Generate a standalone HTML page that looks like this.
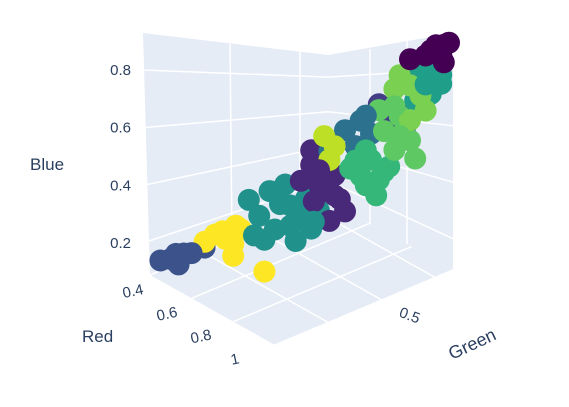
<!DOCTYPE html>
<html><head><meta charset="utf-8"><style>
body{margin:0;background:#fff;}
svg text{font-family:"Liberation Sans",sans-serif;fill:#2a3f5f;}
</style></head><body>
<svg id="chart" width="569" height="402" viewBox="0 0 569 402">
<g id="panes">
<polygon points="143,33 328,55 328,200 150,275" fill="#e5ecf6"/>
<polygon points="328,55 453,33 453,270 328,200" fill="#e5ecf6"/>
<polygon points="150,275 275,345 453,270 328,200" fill="#e5ecf6"/>
</g>
<g id="grid" stroke="#fff" stroke-width="1.5" fill="none"></g>
<g id="points"></g>
<g id="labels"></g>
</svg>
<script>
const clusterColors=["#3b528b","#fde725","#21918c","#482878","#433e85","#2c728e","#bddf26","#35b779","#5ec962","#1f9e89","#7ad151","#440154"];
const red=[0.4,0.4,0.4,0.4,0.4, 0.4,0.4,0.4,0.4,0.4,0.4,0.4,0.4, 0.4,0.4,0.4,0.4,0.4,0.4,0.4,0.4,0.4,0.4,0.4,0.4, 0.4,0.4,0.4,0.4,0.4,0.4,0.4,0.4,0.4, 0.4,0.4,0.4,0.4, 0.4,0.4,0.4,0.4,0.4, 0.4,0.4,0.4, 0.4,0.4,0.4,0.4,0.4,0.4,0.4, 0.4,0.4,0.4,0.4,0.4,0.4, 0.4,0.4,0.4,0.4,0.4,0.4,0.4, 0.4,0.4,0.4,0.4,0.4,0.4, 0.4,0.4,0.4,0.4,0.4,0.4,
 0.4,0.4,0.4,0.4,0.4,0.4,0.4,0.4,0.4,0.4,0.4,0.4,0.4,0.4,0.4,0.4,0.4,0.4,0.4];
const green=[0.24,0.28,0.31,0.33,0.41, 0.41,0.48,0.53,0.55,0.52,0.52,0.64,0.49, 0.66,0.70,0.62,0.68,0.74,0.78,0.82,0.85,0.64,0.76,0.72,0.80, 0.78,0.82,0.87,0.91,0.93,0.95,0.83,0.89,0.82, 1.08,1.14,1.18,1.20, 0.95,1.01,1.05,0.99,0.89, 0.87,0.91,0.89, 0.97,1.05,1.08,1.03,1.12,1.07,0.99, 1.10,1.16,1.20,1.14,1.22,1.08, 1.18,1.28,1.32,1.28,1.22,1.32,1.24, 1.16,1.20,1.24,1.26,1.14,1.20, 1.30,1.35,1.32,1.26,1.20,1.33,
 0.60,0.74,0.83,0.58,0.85,0.91,0.85,1.01,1.10,1.03,1.16,1.14,1.26,1.03,1.33,1.28,0.45,0.30,0.36];
const blue=[0.19,0.18,0.15,0.18,0.17, 0.19,0.20,0.20,0.18,0.10,0.14,0.00,0.17, 0.27,0.21,0.20,0.13,0.12,0.14,0.08,0.13,0.11,0.06,0.27,0.19, 0.26,0.30,0.19,0.23,0.14,0.09,0.17,0.08,0.35, 0.41,0.33,0.29,0.33, 0.37,0.38,0.32,0.30,0.32, 0.38,0.33,0.29, 0.23,0.23,0.15,0.15,0.18,0.10,0.25, 0.31,0.34,0.24,0.23,0.17,0.39, 0.46,0.45,0.39,0.37,0.37,0.42,0.47, 0.48,0.43,0.38,0.32,0.44,0.31, 0.53,0.52,0.49,0.51,0.52,0.46,
 0.14,0.19,0.10,0.27,0.22,0.16,0.27,0.19,0.17,0.27,0.27,0.38,0.41,0.39,0.52,0.52,0.20,0.19,0.17];
const cluster=[0,0,0,0,0, 1,1,1,1,1,1,1,1, 2,2,2,2,2,2,2,2,2,2,2,2, 3,3,3,3,3,3,3,3,3, 4,4,4,4, 5,5,5,5,5, 6,6,6, 7,7,7,7,7,7,7, 8,8,8,8,8,8, 9,9,9,9,9,9,9, 10,10,10,10,10,10, 11,11,11,11,11,11,
 2,2,2,2,3,3,3,7,7,7,8,8,9,5,11,11,1,0,0];
const blueTicks=["0.2","0.4","0.6","0.8"];
const blueTickVals=[0.2,0.4,0.6,0.8];
const redTicks=["0.4","0.6","0.8","1"];
const redTickVals=[0.4,0.6,0.8,1.0];
const greenTicks=["0.5"];
const greenTickVals=[0.5];

const NS="http://www.w3.org/2000/svg";
function mk(tag,attrs,parent){const e=document.createElementNS(NS,tag);for(const k in attrs)e.setAttribute(k,attrs[k]);parent.appendChild(e);return e;}
function proj(r,g,b){return [150+(g-0.2)*260+(r-0.4)*150, 262-(g-0.2)*110-(b-0.2)*290+(r-0.4)*110];}
function blueY(v){return 243-(v-0.2)/0.6*173;}
function redT(v){return (v-0.4)/0.6;}
function greenT(v){return (v-0.2)/0.5;}
function lerp(a,b,t){return [a[0]+(b[0]-a[0])*t,a[1]+(b[1]-a[1])*t];}
const L=[150,275],F=[275,345],R=[453,270],B=[328,200];
const grid=document.getElementById('grid');
redTickVals.forEach(v=>{const t=redT(v);const p1=lerp(L,F,t),p2=lerp(B,R,t);
 const l=mk('line',{x1:p1[0],y1:p1[1],x2:p2[0],y2:p2[1]},grid);
 
 });
[0.35,0.5,0.65].forEach(v=>{const t=greenT(v);const p1=lerp(F,R,t),p2=lerp(L,B,t);
 const l=mk('line',{x1:p1[0],y1:p1[1],x2:p2[0],y2:p2[1]},grid);
 
 });
blueTickVals.forEach(v=>{const yl=blueY(v);const f=(yl-33)/(275-33);
 const yb=55+(200-55)*f;const yr=33+(270-33)*f;
 const l=mk('polyline',{points:`143,${yl} 328,${yb} 453,${yr}`},grid);
 
 });
[[230,44,232,240],[300,52,300,212],[370,49,370,224],[407,41,407,244]].forEach(s=>{
 const l=mk('line',{x1:s[0],y1:s[1],x2:s[2],y2:s[3]},grid);
 
 });
const pts=document.getElementById('points');
for(let i=0;i<green.length;i++){const p=proj(red[i],green[i],blue[i]);
 const c=mk('circle',{cx:p[0],cy:p[1],r:11,fill:clusterColors[cluster[i]]},pts);
 
 }
const lab=document.getElementById('labels');
blueTickVals.forEach((v,i)=>{const t=mk('text',{x:131,y:blueY(v)+5,'text-anchor':'end','font-size':15},lab);t.textContent=blueTicks[i];
 
 });
redTickVals.forEach((v,i)=>{const p=lerp([134,296],[236,364],redT(v));const t=mk('text',{x:p[0],y:p[1],'text-anchor':'middle','font-size':15,transform:`rotate(-12 ${p[0]} ${p[1]})`},lab);t.textContent=redTicks[i];
 
 });
greenTickVals.forEach((v,i)=>{const p=lerp([300,365],[480,290],greenT(v));const t=mk('text',{x:p[0],y:p[1],'text-anchor':'middle','font-size':15,transform:`rotate(20 ${p[0]} ${p[1]})`},lab);t.textContent=greenTicks[i];
 
 });
let t=mk('text',{x:30,y:170,'font-size':17},lab);t.textContent='Blue';


t=mk('text',{x:82,y:342,'font-size':17},lab);t.textContent='Red';


t=mk('text',{x:452,y:360,'font-size':18,transform:'rotate(-25 452 360)'},lab);t.textContent='Green';


</script>
</body></html>
